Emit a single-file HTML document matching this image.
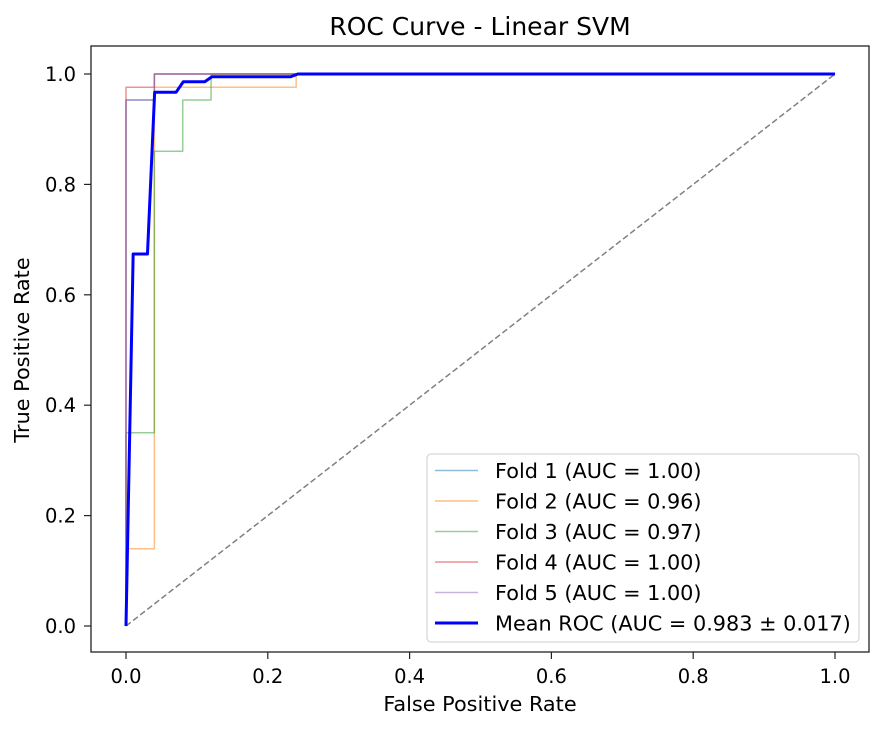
<!DOCTYPE html>
<html><head><meta charset="utf-8"><style>
body{margin:0;background:#fff;}
svg text{font-family:"DejaVu Sans","Liberation Sans",sans-serif;fill:#000;}
</style></head><body>
<svg id="chart" width="884" height="731" xmlns="http://www.w3.org/2000/svg">
<rect width="884" height="731" fill="#fff"/>
<text x="480" y="35" font-size="25" text-anchor="middle">ROC Curve - Linear SVM</text>
<g id="ticks"></g>
<g id="series"></g>
<rect x="91" y="46" width="778" height="606" fill="none" stroke="#222" stroke-width="1.3"/>
<text x="480" y="711" font-size="20.8" text-anchor="middle">False Positive Rate</text>
<text x="29" y="350" font-size="20.8" text-anchor="middle" transform="rotate(-90 29 350)">True Positive Rate</text>
<g id="legend"></g>
</svg>
<script>
const xTicks=[0,0.2,0.4,0.6,0.8,1.0];
const yTicks=[0,0.2,0.4,0.6,0.8,1.0];
const seriesNames=["Fold 1 (AUC = 1.00)","Fold 2 (AUC = 0.96)","Fold 3 (AUC = 0.97)","Fold 4 (AUC = 1.00)","Fold 5 (AUC = 1.00)","Mean ROC (AUC = 0.983 ± 0.017)"];
const fold1Fpr=[0,0,0.04,0.04,1];
const fold1Tpr=[0,0.953,0.953,1,1];
const fold2Fpr=[0,0,0.04,0.04,0.24,0.24,1];
const fold2Tpr=[0,0.14,0.14,0.976,0.976,1,1];
const fold3Fpr=[0,0,0.04,0.04,0.08,0.08,0.12,0.12,1];
const fold3Tpr=[0,0.35,0.35,0.86,0.86,0.953,0.953,1,1];
const fold4Fpr=[0,0,0.04,0.04,1];
const fold4Tpr=[0,0.976,0.976,1,1];
const fold5Fpr=[0,0,0.04,0.04,1];
const fold5Tpr=[0,0.953,0.953,1,1];
const meanFpr=[0,0.0101,0.0303,0.0404,0.0707,0.0808,0.1111,0.1212,0.2323,0.2424,1];
const meanTpr=[0,0.674,0.674,0.967,0.967,0.986,0.986,0.995,0.995,1,1];
const colors=["#1f77b4","#ff7f0e","#2ca02c","#d62728","#9467bd","#0000ff"];
const X=v=>126+v*709, Y=v=>626-v*552;
const NS="http://www.w3.org/2000/svg";
function mk(tag,attrs,parent){const e=document.createElementNS(NS,tag);for(const k in attrs)e.setAttribute(k,attrs[k]);parent.appendChild(e);return e;}
const tg=document.getElementById('ticks');
xTicks.forEach(t=>{
 const l=mk('line',{x1:X(t),x2:X(t),y1:652,y2:659,stroke:'#222','stroke-width':1.2},tg);
 
 
 const tx=mk('text',{x:X(t),y:683,'font-size':19.5,'text-anchor':'middle'},tg);tx.textContent=t.toFixed(1);
 
 
});
yTicks.forEach(t=>{
 const l=mk('line',{x1:84,x2:91,y1:Y(t),y2:Y(t),stroke:'#222','stroke-width':1.2},tg);
 
 
 const tx=mk('text',{x:76,y:Y(t)+7,'font-size':19.5,'text-anchor':'end'},tg);tx.textContent=t.toFixed(1);
 
 
});
const sg=document.getElementById('series');
const diag=mk('line',{x1:X(0),y1:Y(0),x2:X(1),y2:Y(1),stroke:'#808080','stroke-width':1.5,'stroke-dasharray':'6,3'},sg);


const F=[[fold1Fpr,fold1Tpr],[fold2Fpr,fold2Tpr],[fold3Fpr,fold3Tpr],[fold4Fpr,fold4Tpr],[fold5Fpr,fold5Tpr],[meanFpr,meanTpr]];
F.forEach((f,i)=>{
 const pts=f[0].map((x,j)=>X(x)+','+Y(f[1][j])).join(' ');
 const p=mk('polyline',{points:pts,fill:'none',stroke:colors[i],'stroke-width':i==5?3:1.5,'stroke-opacity':i==5?1:0.5,'stroke-linejoin':'round'},sg);
 
 
});
const lg=document.getElementById('legend');
const box=mk('rect',{x:427,y:454,width:432,height:188,rx:4,fill:'#fff','fill-opacity':0.8,stroke:'#ccc','stroke-width':1},lg);


seriesNames.forEach((n,i)=>{
 const y=470.5+i*30.5;
 const l=mk('line',{x1:435,x2:478,y1:y,y2:y,stroke:colors[i],'stroke-width':i==5?3:1.5,'stroke-opacity':i==5?1:0.5},lg);
 
 
 const t=mk('text',{x:495,y:y+7.5,'font-size':20.8},lg);t.textContent=n;
 
 
});
</script>
</body></html>
